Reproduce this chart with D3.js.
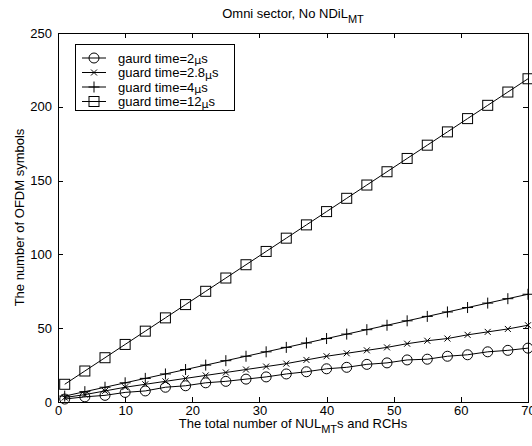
<!DOCTYPE html>
<html>
<head>
<meta charset="utf-8">
<title>OFDM symbols</title>
<style>
  body { margin: 0; background: #fff; }
  svg { font-family: "Liberation Sans", Arial, sans-serif; }
  .axis text { font-size: 13px; fill: #000; }
  .axis path, .axis line { stroke: #000; shape-rendering: crispEdges; }
</style>
</head>
<body>
<svg id="chart" width="532" height="446"></svg>
<script src="https://cdnjs.cloudflare.com/ajax/libs/d3/7.8.5/d3.min.js"></script>
<script>
var xValues = [1, 4, 7, 10, 13, 16, 19, 22, 25, 28, 31, 34, 37, 40, 43, 46, 49, 52, 55, 58, 61, 64, 67, 70];
var gt2 = [2, 3.5, 4.5, 6.5, 7.5, 10, 11, 13, 14, 15.5, 17, 19, 20.5, 22.5, 23.5, 25.5, 26.5, 28.5, 29, 31, 32, 34, 35, 36.5];
var gt28 = [3, 5, 7.5, 10, 12, 14, 16, 18, 20, 22, 24, 26, 28.5, 31, 33, 35, 37, 39.5, 41.5, 43, 45.5, 47.5, 49.5, 52];
var gt4 = [4, 7, 10, 13, 16, 19, 22, 25, 28, 31, 34, 37, 40, 43, 46, 49, 52, 55, 58, 61, 64, 67, 70, 73];
var gt12 = [12, 21, 30, 39, 48, 57, 66, 75, 84, 93, 102, 111, 120, 129, 138, 147, 156, 165, 174, 183, 192, 201, 210, 219];
var seriesNames = ["gaurd time=2", "guard time=2.8", "guard time=4", "guard time=12"];
var markerTypes = ["circle", "x", "plus", "square"];
var xTicks = [0, 10, 20, 30, 40, 50, 60, 70];
var yTicks = [0, 50, 100, 150, 200, 250];

var pLeft = 58, pRight = 528, pTop = 33, pBottom = 402;
var fs = "13px";
var svg = d3.select("#chart");

var x = d3.scaleLinear().domain([0, 70]).range([pLeft, pRight]);
var y = d3.scaleLinear().domain([0, 250]).range([pBottom, pTop]);

// axes, ticks pointing inward on all four sides
svg.append("g").attr("class", "axis")
    .attr("transform", "translate(0," + pBottom + ")")
    .call(d3.axisBottom(x).tickValues(xTicks).tickSize(-5).tickSizeOuter(0).tickPadding(4));
svg.append("g").attr("class", "axis")
    .attr("transform", "translate(0," + pTop + ")")
    .call(d3.axisTop(x).tickValues(xTicks).tickSize(-5).tickSizeOuter(0).tickFormat(""));
svg.append("g").attr("class", "axis")
    .attr("transform", "translate(" + pLeft + ",0)")
    .call(d3.axisLeft(y).tickValues(yTicks).tickSize(-5).tickSizeOuter(0).tickPadding(6));
svg.append("g").attr("class", "axis")
    .attr("transform", "translate(" + pRight + ",0)")
    .call(d3.axisRight(y).tickValues(yTicks).tickSize(-5).tickSizeOuter(0).tickFormat(""));

// markers
function marker(g, type) {
    if (type === "circle") {
        g.append("circle").attr("r", 5).attr("fill", "none").attr("stroke", "#000");
    } else if (type === "square") {
        g.append("rect").attr("x", -5).attr("y", -5).attr("width", 10).attr("height", 10)
            .attr("fill", "none").attr("stroke", "#000");
    } else if (type === "plus") {
        g.append("path").attr("d", "M-5.5,0H5.5M0,-5.5V5.5").attr("stroke", "#000");
    } else {
        g.append("path").attr("d", "M-3,-3L3,3M-3,3L3,-3").attr("stroke", "#000");
    }
}

var series = [gt2, gt28, gt4, gt12];
var line = d3.line().x(function(d) { return x(d[0]); }).y(function(d) { return y(d[1]); });

var plot = svg.append("g");
series.forEach(function(vals, s) {
    var pts = xValues.map(function(v, i) { return [v, vals[i]]; });
    plot.append("path").attr("d", line(pts)).attr("fill", "none").attr("stroke", "#000").attr("stroke-width", 1);
    plot.selectAll(null).data(pts).enter().append("g")
        .attr("transform", function(d) { return "translate(" + x(d[0]) + "," + y(d[1]) + ")"; })
        .each(function() { marker(d3.select(this), markerTypes[s]); });
});

// legend
var lg = svg.append("g");
lg.append("rect").attr("x", 75).attr("y", 44).attr("width", 159).attr("height", 66)
    .attr("fill", "#fff").attr("stroke", "#000").attr("shape-rendering", "crispEdges");
seriesNames.forEach(function(name, i) {
    var ry = 58 + i * 14.5;
    lg.append("line").attr("x1", 82).attr("x2", 106).attr("y1", ry).attr("y2", ry).attr("stroke", "#000");
    var m = lg.append("g").attr("transform", "translate(94," + ry + ")");
    marker(m, markerTypes[i]);
    var t = lg.append("text").attr("x", 118).attr("y", ry + 4.5).attr("font-size", fs).text(name);
    t.append("tspan").attr("font-family", "'DejaVu Sans', sans-serif").attr("font-size", "11px").attr("dy", 1.5).text("\u03bc");
    t.append("tspan").attr("dy", -1.5).text("s");
});

// title
var title = svg.append("text").attr("x", 293).attr("y", 18).attr("text-anchor", "middle").attr("font-size", fs)
    .text("Omni sector, No NDiL");
title.append("tspan").attr("dy", 5).attr("font-size", "11px").text("MT");

// x label
var xl = svg.append("text").attr("x", 293).attr("y", 428).attr("text-anchor", "middle").attr("font-size", fs)
    .text("The total number of NUL");
xl.append("tspan").attr("dy", 5).attr("font-size", "11px").text("MT");
xl.append("tspan").attr("dy", -5).text("s and RCHs");

// y label
svg.append("text").attr("transform", "translate(24," + ((pTop + pBottom) / 2) + ") rotate(-90)")
    .attr("text-anchor", "middle").attr("font-size", fs)
    .text("The number of OFDM symbols");
</script>
</body>
</html>
